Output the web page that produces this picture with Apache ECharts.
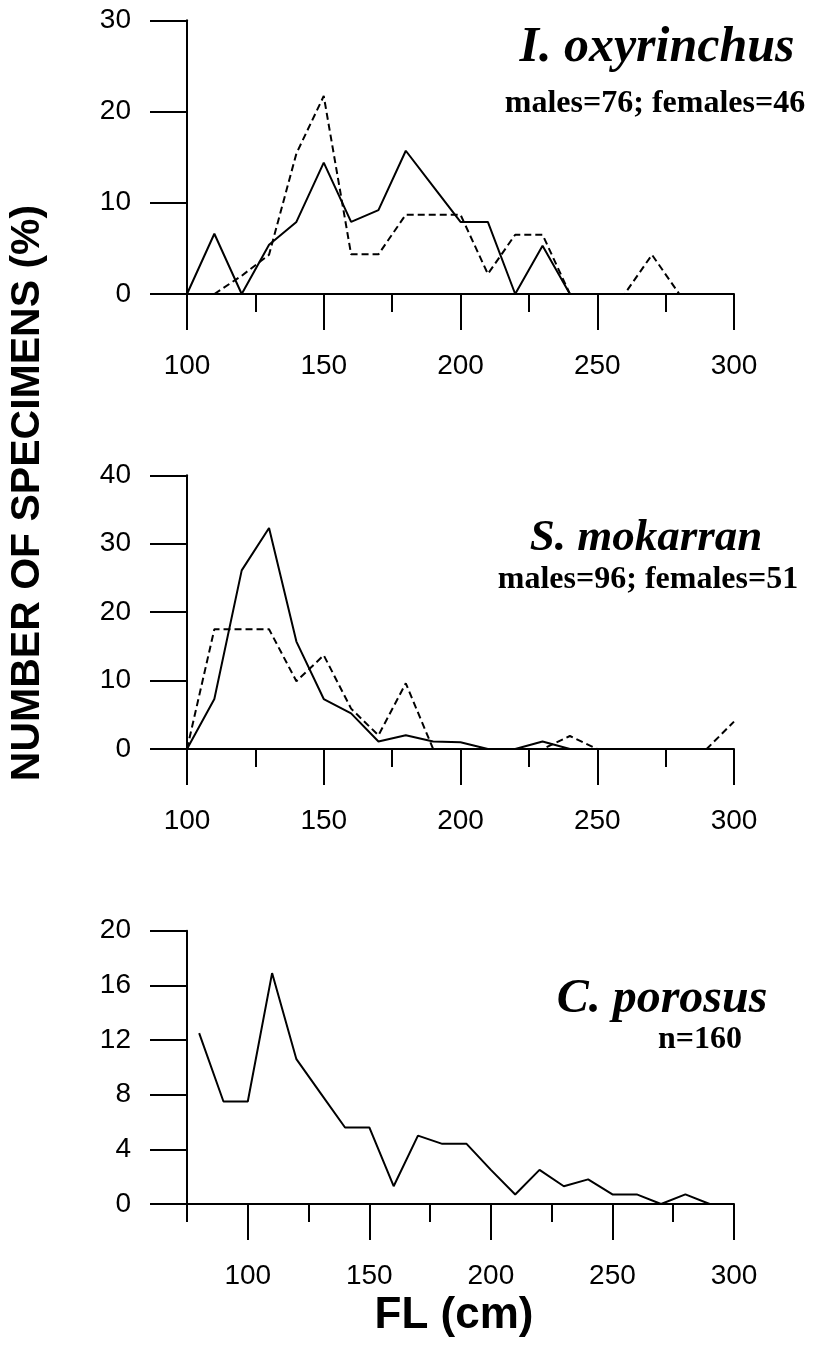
<!DOCTYPE html>
<html>
<head>
<meta charset="utf-8">
<script src="https://cdn.jsdelivr.net/npm/echarts@6/dist/echarts.min.js"></script>
<style>
html,body{margin:0;padding:0;background:#fff;}
#chart{width:815px;height:1345px;}
</style>
</head>
<body>
<div id="chart"></div>
<script>
// ---- data ----
const flMales1 = [100,110,120,130,140,150,160,170,180,190,200,210,220,230,240];
const males1   = [0,6.6,0,5.4,7.9,14.4,7.9,9.2,15.7,11.8,7.9,7.9,0,5.3,0];
const flFemales1 = [110,120,130,140,150,160,170,180,190,200,210,220,230,240,250,260,270,280];
const females1   = [0,2.0,4.3,15.4,21.7,4.35,4.35,8.7,8.7,8.7,2.2,6.5,6.5,0,0,0,4.3,0];

const flMales2 = [100,110,120,130,140,150,160,170,180,190,200,210,220,230,240];
const males2   = [0,7.3,26.1,32.3,15.7,7.3,5.2,1.1,2.0,1.1,1.0,0,0,1.1,0];
const flFemales2 = [100,110,120,130,140,150,160,170,180,190,200,210,220,230,240,250,260,270,280,290,300];
const females2   = [0,17.5,17.5,17.5,9.9,13.7,5.9,2.0,9.6,0,0,0,0,0,1.9,0,0,0,0,0,4.0];

const fl3 = [80,90,100,110,120,130,140,150,160,170,180,190,200,210,220,230,240,250,260,270,280,290];
const all3 = [12.5,7.5,7.5,16.9,10.6,8.1,5.6,5.6,1.3,5.0,4.4,4.4,2.5,0.7,2.5,1.3,1.8,0.7,0.7,0,0.7,0];

const xMajorTicks = [100,150,200,250,300];
const xMinorTicks12 = [125,175,225,275];
const xMinorTicks3 = [75,125,175,225,275];

const titles = ['I. oxyrinchus','S. mokarran','C. porosus'];
const subtitles = ['males=76; females=46','males=96; females=51','n=160'];
const yAxisTitle = 'NUMBER OF SPECIMENS (%)';
const xAxisTitle = 'FL (cm)';

// ---- chart ----
const SANS = '"Liberation Sans", Arial, sans-serif';
const SERIF = '"Liberation Serif", "Times New Roman", serif';
const chart = echarts.init(document.getElementById('chart'), null, {renderer:'canvas'});

const grids = [
  {left:187, right:81, top:20.3, height:273.7},
  {left:187, right:81, top:475.3, height:273.7},
  {left:187, right:81, top:930.7, height:273.3}
];
const xRanges = [[100,300],[100,300],[75,300]];
const yRanges = [[0,30,10],[0,40,10],[0,20,4]];
const minorSets = [xMinorTicks12, xMinorTicks12, xMinorTicks3];
const lineS = {color:'#000', width:2};

const xAxes = [], yAxes = [];
for (let i=0;i<3;i++){
  xAxes.push({
    gridIndex:i, type:'value', position:'bottom', min:xRanges[i][0], max:xRanges[i][1],
    axisLine:{show:true, onZero:false, lineStyle:lineS},
    axisTick:{show:true, inside:false, length:36, customValues:xMajorTicks, lineStyle:lineS},
    axisLabel:{show:true, customValues:xMajorTicks, margin:58, fontSize:28, color:'#000', fontFamily:SANS},
    splitLine:{show:false}
  });
  xAxes.push({
    gridIndex:i, type:'value', position:'bottom', min:xRanges[i][0], max:xRanges[i][1],
    axisLine:{show:false, onZero:false},
    axisTick:{show:true, inside:false, length:18, customValues:minorSets[i], lineStyle:lineS},
    axisLabel:{show:false},
    splitLine:{show:false}
  });
  yAxes.push({
    gridIndex:i, type:'value', position:'left', min:yRanges[i][0], max:yRanges[i][1], interval:yRanges[i][2],
    axisLine:{show:true, onZero:false, lineStyle:lineS},
    axisTick:{show:true, length:37, lineStyle:lineS},
    axisLabel:{show:true, margin:56, fontSize:28, color:'#000', fontFamily:SANS},
    splitLine:{show:false}
  });
}

function pairs(xs, ys){ return xs.map((x,k)=>[x, ys[k]]); }
function line(i, xs, ys, dashed){
  return {
    type:'line', xAxisIndex:i*2, yAxisIndex:i, data:pairs(xs,ys),
    showSymbol:false, symbol:'none', silent:true,
    lineStyle:{color:'#000', width:2, type:dashed?[7,4]:'solid'},
    z:5
  };
}

const series = [
  line(0, flMales1, males1, false),
  line(0, flFemales1, females1, true),
  line(1, flMales2, males2, false),
  line(1, flFemales2, females2, true),
  line(2, fl3, all3, false)
];

const titlePos = [[657,48],[646,538],[662,1000]];
const titleSize = [50,45,48];
const subPos = [[655,104],[648,580],[700,1040]];
const graphic = [];
for (let i=0;i<3;i++){
  graphic.push({type:'text', x:titlePos[i][0], y:titlePos[i][1], style:{
    text:titles[i], font:'italic bold '+titleSize[i]+'px '+SERIF, fill:'#000', align:'center', verticalAlign:'middle'}});
  graphic.push({type:'text', x:subPos[i][0], y:subPos[i][1], style:{
    text:subtitles[i], font:'bold 32px '+SERIF, fill:'#000', align:'center', verticalAlign:'middle'}});
}
graphic.push({type:'text', x:28, y:493, rotation:Math.PI/2, style:{
  text:yAxisTitle, font:'bold 41px '+SANS, fill:'#000', align:'center', verticalAlign:'middle'}});
graphic.push({type:'text', x:454, y:1316, style:{
  text:xAxisTitle, font:'bold 44px '+SANS, fill:'#000', align:'center', verticalAlign:'middle'}});

chart.setOption({
  animation:false,
  backgroundColor:'#fff',
  grid:grids,
  xAxis:xAxes,
  yAxis:yAxes,
  series:series,
  graphic:graphic
});
</script>
</body>
</html>
